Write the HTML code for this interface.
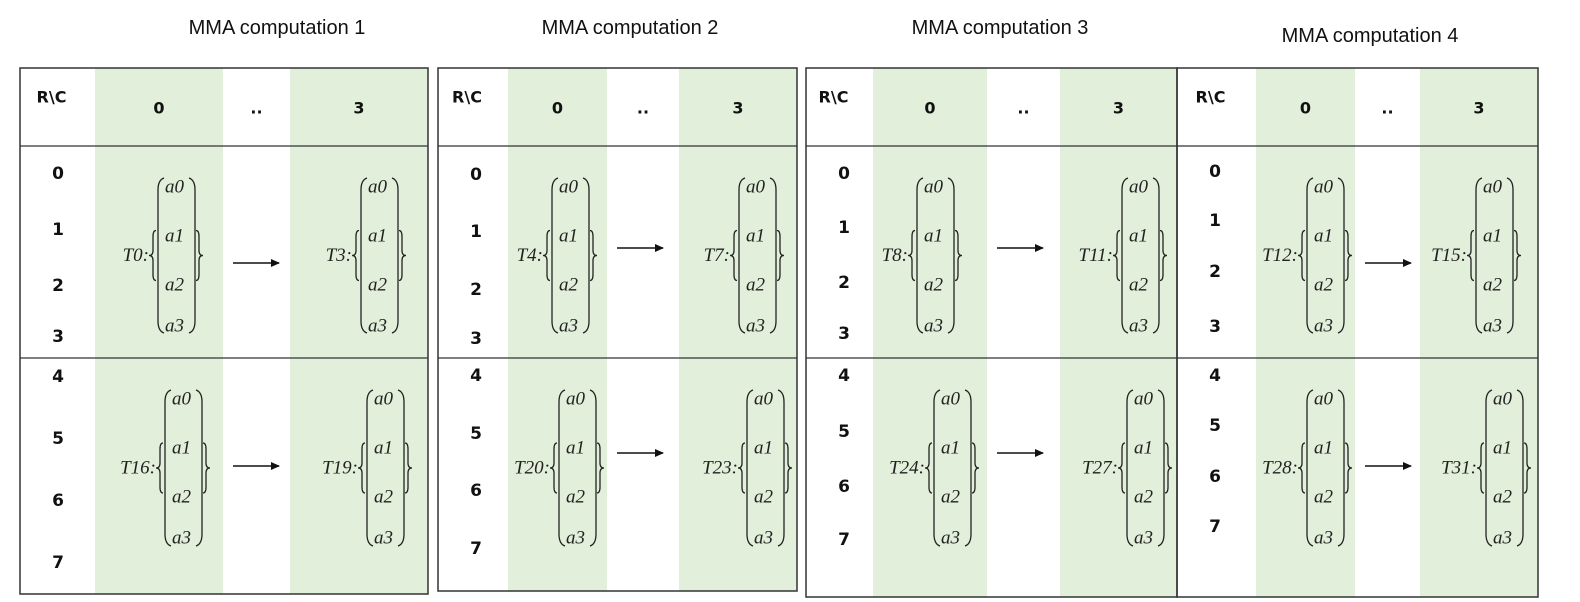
<!DOCTYPE html>
<html><head><meta charset="utf-8">
<style>
html,body{margin:0;padding:0;background:#fff;}
svg{display:block;}
.ttl{font-family:"Liberation Sans",sans-serif;font-size:20px;fill:#111;}
.hd{font-family:"DejaVu Sans","Liberation Sans",sans-serif;font-weight:bold;font-size:16px;fill:#111;}
.rl{font-family:"DejaVu Sans","Liberation Sans",sans-serif;font-weight:bold;font-size:17px;fill:#111;}
.mth{font-family:"Liberation Serif",serif;font-style:italic;font-size:19px;fill:#222;}
</style></head>
<body>
<svg id="s" width="1580" height="602" viewBox="0 0 1580 602" xmlns="http://www.w3.org/2000/svg"></svg>
<script>
const titles=["MMA computation 1","MMA computation 2","MMA computation 3","MMA computation 4"];
const titleX=[277,630,1000,1370];
const titleY=[28,28,28,36];
const tblX=[[20,95,223,290,428],[438,508,607,679,797],[806,873,987,1060,1177],[1177,1256,1355,1420,1538]];
const tblBottom=[594,591,597,597];
const rowY=[[174,230,286,337,377,439,501,563],[175,232,290,339,376,434,491,549],[174,228,283,334,376,432,487,540],[172,221,272,327,376,426,477,527]];
const threadLabels=[["T0","T3","T16","T19"],["T4","T7","T20","T23"],["T8","T11","T24","T27"],["T12","T15","T28","T31"]];
const braceX=[[149,352,156,358],[543,730,550,738],[908,1113,925,1118],[1298,1467,1298,1477]];
const arrowY=[[263,466],[248,453],[248,453],[263,466]];
const elems=["a0","a1","a2","a3"];
const NS="http://www.w3.org/2000/svg";
const svg=document.getElementById('s');
function mk(tag,attrs,parent){const e=document.createElementNS(NS,tag);for(const k in attrs)e.setAttribute(k,attrs[k]);(parent||svg).appendChild(e);return e;}
const defs=mk('defs',{});
const mrk=mk('marker',{id:'ah',markerWidth:9,markerHeight:8,refX:8,refY:4,orient:'auto',markerUnits:'userSpaceOnUse'},defs);
mk('path',{d:'M0,0 L9,4 L0,8 Z',fill:'#111'},mrk);

function group(g,label,bx,y0,y1,name){
  const gg=mk('g',{},g);
  
  
  const mid=(y0+y1)/2;
  const t=mk('text',{x:bx,y:mid,'text-anchor':'end','dominant-baseline':'central',class:'mth'},gg);
  t.textContent=label+":";
  
  
  const st={fill:'none',stroke:'#222','stroke-width':1.3};
  const b0=mid-25,b1=mid+25;
  mk('path',Object.assign({d:`M${bx+7},${b0} Q${bx+4},${b0} ${bx+4},${b0+6} L${bx+4},${mid-5} Q${bx+4},${mid} ${bx},${mid} Q${bx+4},${mid} ${bx+4},${mid+5} L${bx+4},${b1-6} Q${bx+4},${b1} ${bx+7},${b1}`},st),gg);
  mk('path',Object.assign({d:`M${bx+15},${y0} Q${bx+9},${y0+2} ${bx+9},${y0+12} L${bx+9},${y1-12} Q${bx+9},${y1-2} ${bx+15},${y1}`},st),gg);
  const rx=bx+40;
  mk('path',Object.assign({d:`M${rx},${y0} Q${rx+6},${y0+2} ${rx+6},${y0+12} L${rx+6},${y1-12} Q${rx+6},${y1-2} ${rx},${y1}`},st),gg);
  const cx=bx+47;
  mk('path',Object.assign({d:`M${cx},${b0} Q${cx+3},${b0} ${cx+3},${b0+6} L${cx+3},${mid-5} Q${cx+3},${mid} ${cx+7},${mid} Q${cx+3},${mid} ${cx+3},${mid+5} L${cx+3},${b1-6} Q${cx+3},${b1} ${cx},${b1}`},st),gg);
  const offs=[9,58,107,148];
  elems.forEach((e,i)=>{
    const tx=mk('text',{x:bx+16,y:y0+offs[i],'dominant-baseline':'central',class:'mth'},gg);
    tx.textContent=e;
    
    
  });
}

titles.forEach((tt,k)=>{
  const t=mk('text',{x:titleX[k],y:titleY[k],'text-anchor':'middle','dominant-baseline':'central',class:'ttl'});
  t.textContent=tt;
  
  
  const X=tblX[k], top=68, bot=tblBottom[k];
  const g=mk('g',{});
  
  
  mk('rect',{x:X[1],y:top,width:X[2]-X[1],height:bot-top,fill:'#e2efda'},g);
  mk('rect',{x:X[3],y:top,width:X[4]-X[3],height:bot-top,fill:'#e2efda'},g);
  mk('rect',{x:X[0],y:top,width:X[4]-X[0],height:bot-top,fill:'none',stroke:'#333','stroke-width':1.5},g);
  mk('line',{x1:X[0],x2:X[4],y1:146,y2:146,stroke:'#333','stroke-width':1.3},g);
  mk('line',{x1:X[0],x2:X[4],y1:358,y2:358,stroke:'#333','stroke-width':1.3},g);
  const h0=mk('text',{x:(X[0]+X[1])/2-6,y:97,'text-anchor':'middle','dominant-baseline':'central',class:'hd'},g);
  h0.textContent="R\\C";
  
  
  [["0",(X[1]+X[2])/2],["..",(X[2]+X[3])/2],["3",(X[3]+X[4])/2]].forEach(([s,x])=>{
    const h=mk('text',{x:x,y:108,'text-anchor':'middle','dominant-baseline':'central',class:'hd'},g);
    h.textContent=s;
    
    
  });
  rowY[k].forEach((y,i)=>{
    const r=mk('text',{x:X[0]+38,y:y,'text-anchor':'middle','dominant-baseline':'central',class:'rl'},g);
    r.textContent=String(i);
    
    
  });
  const L=threadLabels[k], B=braceX[k];
  group(g,L[0],B[0],178,333,'thread-group-top-left');
  group(g,L[1],B[1],178,333,'thread-group-top-right');
  group(g,L[2],B[2],390,546,'thread-group-bottom-left');
  group(g,L[3],B[3],390,546,'thread-group-bottom-right');
  arrowY[k].forEach(ay=>{
    const a=mk('line',{x1:X[2]+10,x2:X[2]+56,y1:ay,y2:ay,stroke:'#111','stroke-width':1.5,'marker-end':'url(#ah)'},g);
    
    
  });
});
</script>
</body></html>
